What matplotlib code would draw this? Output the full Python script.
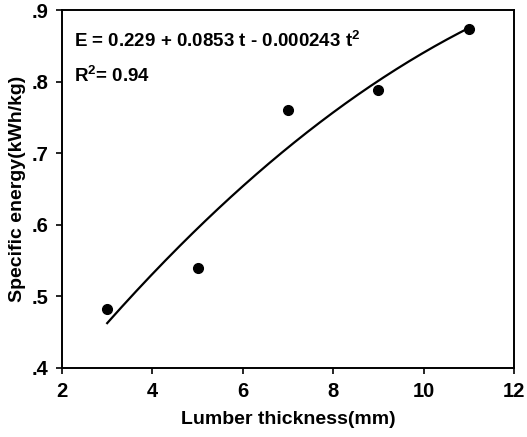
import numpy as np
import matplotlib
matplotlib.use("Agg")
import matplotlib.pyplot as plt
from matplotlib.ticker import FuncFormatter

# measured points
thickness = [3, 5, 7, 9, 11]
energy = [0.482, 0.539, 0.760, 0.788, 0.873]

x_ticks = [2, 4, 6, 8, 10, 12]
y_ticks = [0.4, 0.5, 0.6, 0.7, 0.8, 0.9]

plt.rcParams['font.family'] = ['Liberation Sans', 'DejaVu Sans']
plt.rcParams['font.weight'] = 'bold'
plt.rcParams['mathtext.default'] = 'regular'

fig = plt.figure(figsize=(5.27, 4.37), dpi=100)
ax = fig.add_axes([0.1176, 0.158, 0.858, 0.819])

# quadratic trendline from the data
coef = np.polyfit(thickness, energy, 2)
tt = np.linspace(min(thickness), max(thickness), 200)
ax.plot(tt, np.polyval(coef, tt), color='black', lw=1.6)
ax.plot(thickness, energy, 'o', color='black', markersize=7)

ax.set_xlim(2, 12)
ax.set_ylim(0.4, 0.9)
ax.set_xticks(x_ticks)
ax.set_yticks(y_ticks)
ax.yaxis.set_major_formatter(FuncFormatter(lambda v, p: ('%.1f' % v).lstrip('0')))
ax.tick_params(direction='out', length=4, width=1.2, labelsize=14.5, pad=6)
for s in ax.spines.values():
    s.set_linewidth(1.4)

ax.set_xlabel('Lumber thickness(mm)', fontsize=14, fontweight='bold', labelpad=7)
ax.set_ylabel('Specific energy(kWh/kg)', fontsize=14, fontweight='bold', labelpad=4)

ax.text(0.026, 0.898, 'E = 0.229 + 0.0853 t - 0.000243 t$^2$', transform=ax.transAxes,
        fontsize=13.5, fontweight='bold')
ax.text(0.026, 0.800, 'R$^2$= 0.94', transform=ax.transAxes,
        fontsize=13.5, fontweight='bold')

fig.savefig('out.png', dpi=100)
